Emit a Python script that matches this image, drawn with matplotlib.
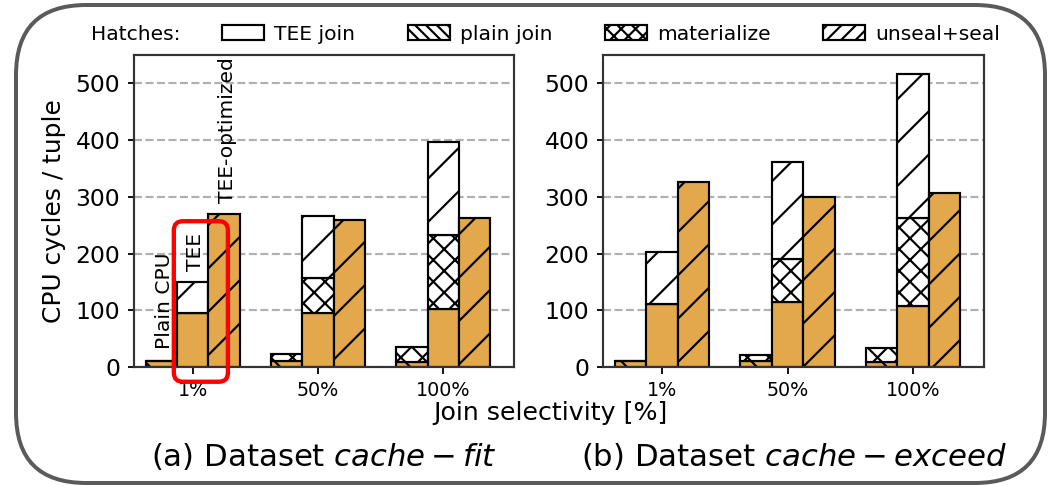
import numpy as np
import matplotlib
matplotlib.use("Agg")
import matplotlib.pyplot as plt
from matplotlib.patches import Patch, FancyBboxPatch

# ---- data (CPU cycles per tuple) ----
selectivity = ["1%", "50%", "100%"]

# Dataset cache-fit
fit_plain_join = [11, 11, 8]
fit_plain_mat = [0, 12, 28]
fit_tee_join = [96, 95, 103]
fit_tee_mat = [0, 62, 129]
fit_tee_seal = [53, 109, 165]
fit_tee_opt = [269, 260, 262]

# Dataset cache-exceed
exc_plain_join = [10, 10, 8]
exc_plain_mat = [0, 12, 25]
exc_tee_join = [111, 114, 107]
exc_tee_mat = [0, 77, 156]
exc_tee_seal = [91, 171, 253]
exc_tee_opt = [326, 300, 307]

ORANGE = "#E2A84B"
DPI = 260
W, H = 1048, 486

plt.rcParams["hatch.linewidth"] = 0.6
plt.rcParams["font.family"] = ["DejaVu Sans"]

fig = plt.figure(figsize=(W / DPI, H / DPI), dpi=DPI)
ax_l = fig.add_axes([134 / W, 1 - 367 / H, 380 / W, 312 / H])
ax_r = fig.add_axes([603 / W, 1 - 367 / H, 381 / W, 312 / H])

bw = 0.25
x = np.arange(len(selectivity))
edge = dict(edgecolor="black", linewidth=0.6)


def draw_panel(ax, pj, pm, tj, tm, ts, opt):
    pj, pm, tj, tm, ts, opt = map(np.asarray, (pj, pm, tj, tm, ts, opt))
    # Plain CPU
    ax.bar(x - bw, pj, bw, color=ORANGE, hatch="\\\\", **edge)
    ax.bar(x - bw, pm, bw, bottom=pj, color="white", hatch="xxxx", **edge)
    # TEE
    ax.bar(x, tj, bw, color=ORANGE, **edge)
    ax.bar(x, tm, bw, bottom=tj, color="white", hatch="xxxx", **edge)
    ax.bar(x, ts, bw, bottom=tj + tm, color="white", hatch="//", **edge)
    # TEE-optimized
    ax.bar(x + bw, opt, bw, color=ORANGE, hatch="//", **edge)

    ax.set_xlim(-0.47, 2.565)
    ax.set_ylim(0, 550)
    ax.set_yticks([0, 100, 200, 300, 400, 500])
    ax.set_xticks(x)
    ax.set_xticklabels(selectivity, fontsize=5.3)
    ax.tick_params(axis="y", labelsize=6.5, length=1.8, width=0.5, pad=2)
    ax.tick_params(axis="x", length=1.8, width=0.5, pad=2)
    ax.set_axisbelow(True)
    ax.yaxis.grid(True, linestyle="--", color="#b0b0b0", linewidth=0.6)
    for s in ax.spines.values():
        s.set_linewidth(0.6)
        s.set_color("#333333")


draw_panel(ax_l, fit_plain_join, fit_plain_mat, fit_tee_join, fit_tee_mat,
           fit_tee_seal, fit_tee_opt)
draw_panel(ax_r, exc_plain_join, exc_plain_mat, exc_tee_join, exc_tee_mat,
           exc_tee_seal, exc_tee_opt)

ax_l.set_ylabel("CPU cycles / tuple", fontsize=6.9, labelpad=2.5)

# series names over the first group
tee_top = fit_tee_join[0] + fit_tee_mat[0] + fit_tee_seal[0]
for xpos, ytop, name in [(-bw, fit_plain_join[0] + fit_plain_mat[0], "Plain CPU"),
                         (0, tee_top, "TEE"),
                         (bw, fit_tee_opt[0], "TEE-optimized")]:
    ax_l.annotate(name, (xpos, ytop), xytext=(0.8, 3.2), textcoords="offset points",
                  rotation=90, ha="center", va="bottom", fontsize=5.6)

# highlight box around the TEE bar
p0 = ax_l.transData.transform((-0.152, -26)) / DPI
p1 = ax_l.transData.transform((0.28, 257)) / DPI
hl = FancyBboxPatch(tuple(p0), p1[0] - p0[0], p1[1] - p0[1],
                    boxstyle="round,pad=0,rounding_size=0.035",
                    transform=fig.dpi_scale_trans, fill=False,
                    edgecolor="#ff0000", linewidth=1.2, clip_on=False, zorder=10)
fig.add_artist(hl)

# hatch legend
fig.text(91 / W, 1 - 34 / H, "Hatches:", fontsize=5.6, va="center", ha="left")
handles = [Patch(facecolor="white", edgecolor="black", linewidth=0.6, hatch=""),
           Patch(facecolor="white", edgecolor="black", linewidth=0.6, hatch="\\" * 8),
           Patch(facecolor="white", edgecolor="black", linewidth=0.6, hatch="xxxxxx"),
           Patch(facecolor="white", edgecolor="black", linewidth=0.6, hatch="//////")]
labels = ["TEE join", "plain join", "materialize", "unseal+seal"]
fig.legend(handles, labels, loc="center left", bbox_to_anchor=(222 / W, 1 - 34 / H),
           ncol=4, frameon=False, fontsize=5.6, handlelength=2.08, handleheight=0.75,
           handletextpad=0.5, columnspacing=2.6, borderpad=0, borderaxespad=0)

fig.text(550 / W, 1 - 413 / H, "Join selectivity [%]", fontsize=7,
         ha="center", va="center")
fig.text(324 / W, 1 - 457 / H, "(a) Dataset $cache-fit$", fontsize=8.5,
         ha="center", va="center")
fig.text(794 / W, 1 - 457 / H, "(b) Dataset $cache-exceed$", fontsize=8.5,
         ha="center", va="center")

# rounded frame around the whole figure
frame = FancyBboxPatch((16 / DPI, 3 / DPI), 1029 / DPI, 478 / DPI,
                       boxstyle="round,pad=0,rounding_size=0.27",
                       transform=fig.dpi_scale_trans, fill=False,
                       edgecolor="#5a5a5a", linewidth=1.1, zorder=20)
fig.add_artist(frame)

fig.savefig("out.png", dpi=DPI)
